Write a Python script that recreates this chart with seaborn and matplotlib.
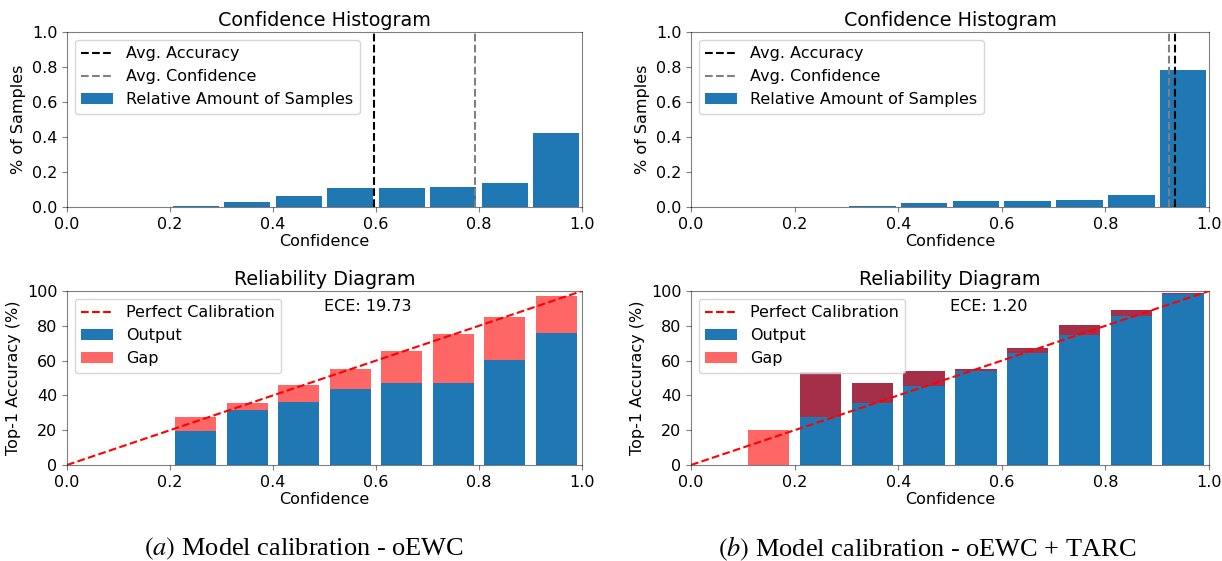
import numpy as np
import matplotlib
matplotlib.use("Agg")
import matplotlib.pyplot as plt
from matplotlib.lines import Line2D
from matplotlib.patches import Patch
import seaborn as sns

# ---------------- data ----------------
bin_edges = [0.0, 0.1, 0.2, 0.3, 0.4, 0.5, 0.6, 0.7, 0.8, 0.9, 1.0]
bin_centers = [0.05, 0.15, 0.25, 0.35, 0.45, 0.55, 0.65, 0.75, 0.85, 0.95]

# (a) oEWC
hist_a = [0.0, 0.0, 0.006, 0.029, 0.065, 0.111, 0.111, 0.117, 0.140, 0.425]
acc_a = [0.0, 0.0, 19.7, 31.8, 36.0, 43.5, 46.9, 47.3, 60.5, 75.7]
conf_a = [0.0, 0.0, 27.6, 35.4, 45.8, 55.0, 65.3, 75.1, 84.9, 97.1]
avg_acc_a = 0.596
avg_conf_a = 0.793
ece_a = "ECE: 19.73"

# (b) oEWC + TARC
hist_b = [0.0, 0.0, 0.001, 0.006, 0.023, 0.034, 0.034, 0.040, 0.069, 0.782]
acc_b = [0.0, 0.0, 53.2, 46.9, 53.8, 55.0, 67.0, 80.3, 88.9, 98.6]
conf_b = [0.0, 19.9, 27.6, 35.4, 45.4, 54.0, 64.2, 74.5, 85.6, 98.0]
avg_acc_b = 0.934
avg_conf_b = 0.922
ece_b = "ECE: 1.20"

captions = ["$(a)$ Model calibration - oEWC",
            "$(b)$ Model calibration - oEWC + TARC"]

x_ticks = [0.0, 0.2, 0.4, 0.6, 0.8, 1.0]
hist_yticks = [0.0, 0.2, 0.4, 0.6, 0.8, 1.0]
rel_yticks = [0, 20, 40, 60, 80, 100]

# ---------------- style ----------------
plt.rcParams["font.family"] = ["DejaVu Sans"]
plt.rcParams["mathtext.fontset"] = "stix"
BASE = 11.5
TITLE = 13.8
BLUE = "#1f77b4"
SPINE = (0, 0, 0, 0.5)

W, H = 1222, 561
fig = plt.figure(figsize=(W / 100, H / 100), dpi=100)


def ax_at(x0, y0, x1, y1):
    return fig.add_axes([x0 / W, (H - y1) / H, (x1 - x0) / W, (y1 - y0) / H])


def style_axes(ax):
    for s in ax.spines.values():
        s.set_color(SPINE)
        s.set_zorder(3)
    ax.tick_params(direction="out", length=3.5, color=SPINE,
                   labelsize=BASE, labelcolor="black")


def draw_hist(ax, hist, avg_acc, avg_conf):
    sns.histplot(x=bin_centers, weights=hist, bins=bin_edges, shrink=0.9,
                 color=BLUE, alpha=1.0, linewidth=0, ax=ax)
    ax.axvline(avg_acc, color="black", ls="--", lw=1.5, zorder=4)
    ax.axvline(avg_conf, color="gray", ls="--", lw=1.5, zorder=4)
    ax.set_xlim(0, 1)
    ax.set_ylim(0, 1)
    ax.set_xticks(x_ticks)
    ax.set_yticks(hist_yticks)
    ax.set_xticklabels([f"{v:.1f}" for v in x_ticks])
    ax.set_yticklabels([f"{v:.1f}" for v in hist_yticks])
    ax.set_title("Confidence Histogram", fontsize=TITLE, pad=4)
    ax.set_xlabel("Confidence", fontsize=BASE, labelpad=2)
    ax.set_ylabel("% of Samples", fontsize=BASE, labelpad=4)
    handles = [Line2D([], [], color="black", ls="--", lw=1.5),
               Line2D([], [], color="gray", ls="--", lw=1.5),
               Patch(facecolor=BLUE)]
    ax.legend(handles, ["Avg. Accuracy", "Avg. Confidence",
                        "Relative Amount of Samples"],
              loc="upper left", fontsize=BASE)
    style_axes(ax)


def draw_rel(ax, acc, conf, ece):
    sns.histplot(x=bin_centers, weights=acc, bins=bin_edges, shrink=0.8,
                 color=BLUE, alpha=1.0, linewidth=0, ax=ax)
    gap = np.array(conf) - np.array(acc)
    ax.bar(bin_centers, gap, bottom=acc, width=0.08, color="red",
           alpha=0.6, linewidth=0, zorder=2)
    ax.plot([0, 1], [0, 100], color="red", ls="--", lw=1.5, zorder=4)
    ax.set_xlim(0, 1)
    ax.set_ylim(0, 100)
    ax.set_xticks(x_ticks)
    ax.set_yticks(rel_yticks)
    ax.set_xticklabels([f"{v:.1f}" for v in x_ticks])
    ax.set_title("Reliability Diagram", fontsize=TITLE, pad=4)
    ax.set_xlabel("Confidence", fontsize=BASE, labelpad=2)
    ax.set_ylabel("Top-1 Accuracy (%)", fontsize=BASE, labelpad=4)
    ax.text(0.5, 0.91, ece, transform=ax.transAxes, ha="left",
            va="center", fontsize=BASE, zorder=5)
    handles = [Line2D([], [], color="red", ls="--", lw=1.5),
               Patch(facecolor=BLUE),
               Patch(facecolor="red", alpha=0.6)]
    ax.legend(handles, ["Perfect Calibration", "Output", "Gap"],
              loc="upper left", fontsize=BASE)
    style_axes(ax)


ax_ha = ax_at(67, 32, 582, 207)
ax_ra = ax_at(67, 291, 582, 465)
ax_hb = ax_at(691, 32, 1209, 207)
ax_rb = ax_at(691, 291, 1209, 465)

draw_hist(ax_ha, hist_a, avg_acc_a, avg_conf_a)
draw_hist(ax_hb, hist_b, avg_acc_b, avg_conf_b)
draw_rel(ax_ra, acc_a, conf_a, ece_a)
draw_rel(ax_rb, acc_b, conf_b, ece_b)

fig.text(304 / W, (H - 549) / H, captions[0], ha="center", va="center",
         fontsize=19, family="Liberation Serif")
fig.text(927 / W, (H - 549) / H, captions[1], ha="center", va="center",
         fontsize=19, family="Liberation Serif")

fig.savefig("out.png", dpi=100)
